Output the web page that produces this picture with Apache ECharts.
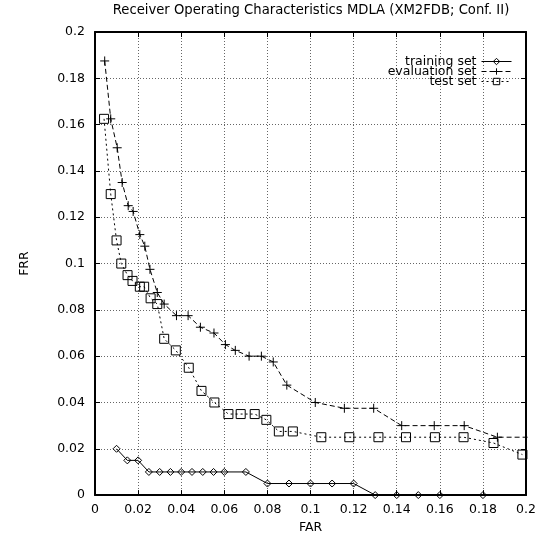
<!DOCTYPE html>
<html>
<head>
<meta charset="utf-8">
<script src="https://cdn.jsdelivr.net/npm/echarts@6/dist/echarts.min.js"></script>
<style>
  html, body { margin: 0; padding: 0; background: #fff; }
  #chart { width: 539px; height: 539px; }
</style>
</head>
<body>
<div id="chart"></div>
<script>
// values
const trainFAR = [0.01, 0.015, 0.02, 0.025, 0.03, 0.035, 0.04, 0.045, 0.05, 0.055, 0.06, 0.07, 0.08, 0.09, 0.1, 0.11, 0.12, 0.13, 0.14, 0.15, 0.16, 0.18];
const trainFRR = [0.02, 0.015, 0.015, 0.01, 0.01, 0.01, 0.01, 0.01, 0.01, 0.01, 0.01, 0.01, 0.005, 0.005, 0.005, 0.005, 0.005, 0, 0, 0, 0, 0];

const evalFAR = [0.0045, 0.0073, 0.0103, 0.0126, 0.0154, 0.0177, 0.0208, 0.0231, 0.0255, 0.0289, 0.0321, 0.0378, 0.0432, 0.0489, 0.0552, 0.0605, 0.0651, 0.0715, 0.0772, 0.0827, 0.089, 0.1022, 0.1157, 0.1293, 0.1423, 0.1574, 0.1713, 0.1867, 0.21];
const evalFRR = [0.1875, 0.1625, 0.15, 0.135, 0.125, 0.1225, 0.1125, 0.1075, 0.0975, 0.0875, 0.0825, 0.0775, 0.0775, 0.0725, 0.07, 0.065, 0.0625, 0.06, 0.06, 0.0575, 0.0475, 0.04, 0.0375, 0.0375, 0.03, 0.03, 0.03, 0.025, 0.025];

const testFAR = [0.0042, 0.0073, 0.01, 0.0122, 0.0151, 0.0174, 0.0208, 0.0228, 0.0258, 0.0289, 0.0321, 0.0375, 0.0435, 0.0494, 0.0554, 0.0619, 0.0676, 0.0741, 0.0795, 0.0853, 0.0918, 0.105, 0.118, 0.1315, 0.1443, 0.1577, 0.171, 0.1849, 0.1983];
const testFRR = [0.1625, 0.13, 0.11, 0.1, 0.095, 0.0925, 0.09, 0.09, 0.085, 0.0825, 0.0675, 0.0625, 0.055, 0.045, 0.04, 0.035, 0.035, 0.035, 0.0325, 0.0275, 0.0275, 0.025, 0.025, 0.025, 0.025, 0.025, 0.025, 0.0225, 0.0175];

const seriesNames = ["training set", "evaluation set", "test set"];

const FONT = "DejaVu Sans";
const FS = 12.5;

const pairs = (xs, ys) => xs.map((x, i) => [x, ys[i]]);
const fmt = (v) => String(+v.toFixed(2));

const chart = echarts.init(document.getElementById("chart"));

const frameAxis = (extra) => Object.assign({
  type: "value",
  min: 0,
  max: 0.2,
  interval: 0.02,
  axisLine: { show: true, onZero: false, lineStyle: { color: "#000", width: 2 } },
  axisTick: { show: true, inside: true, length: 5, lineStyle: { color: "#000", width: 1 } },
  splitLine: { show: false },
  axisLabel: { show: false },
}, extra);

// hollow marks drawn as paths so their stroke stays 1px
const markStyle = { color: "transparent", borderColor: "#000", borderWidth: 1 };

const option = {
  animation: false,
  backgroundColor: "#fff",
  textStyle: { fontFamily: FONT },
  title: {
    text: "Receiver Operating Characteristics MDLA (XM2FDB; Conf. II)",
    left: 311,
    textAlign: "center",
    top: 4,
    padding: 0,
    textStyle: { fontFamily: FONT, fontSize: 13.2, fontWeight: "normal", color: "#000" },
  },
  grid: { left: 95, right: 12, top: 32, bottom: 38 },
  legend: {
    orient: "vertical",
    right: 27,
    top: 55,
    align: "right",
    itemWidth: 30,
    itemHeight: 8,
    itemGap: -3,
    padding: 0,
    data: seriesNames,
    itemStyle: { borderWidth: 1 },
    lineStyle: { width: 1 },
    textStyle: { fontFamily: FONT, fontSize: FS, color: "#000" },
  },
  xAxis: [
    frameAxis({
      position: "bottom",
      name: "FAR",
      nameLocation: "middle",
      nameGap: 21,
      nameTextStyle: { fontFamily: FONT, fontSize: FS, color: "#000" },
      axisLabel: { show: true, margin: 8, color: "#000", fontFamily: FONT, fontSize: FS, formatter: fmt },
      splitLine: { show: true, lineStyle: { color: "#666", width: 1, type: [1, 2] } },
    }),
    frameAxis({ position: "top" }),
  ],
  yAxis: [
    frameAxis({
      position: "left",
      name: "FRR",
      nameLocation: "middle",
      nameRotate: 90,
      nameGap: 64,
      nameTextStyle: { fontFamily: FONT, fontSize: FS, color: "#000" },
      axisLabel: { show: true, margin: 10, color: "#000", fontFamily: FONT, fontSize: FS, formatter: fmt },
      splitLine: { show: true, lineStyle: { color: "#666", width: 1, type: [1, 2] } },
    }),
    frameAxis({ position: "right" }),
  ],
  series: [
    {
      name: seriesNames[0],
      type: "line",
      data: pairs(trainFAR, trainFRR),
      symbol: "path://M5,0L10,5L5,10L0,5Z",
      symbolSize: 7,
      showAllSymbol: true,
      lineStyle: { color: "#000", width: 1, type: "solid" },
      itemStyle: markStyle,
      z: 3,
    },
    {
      name: seriesNames[1],
      type: "line",
      data: pairs(evalFAR, evalFRR),
      symbol: "path://M0,5L10,5M5,0L5,10",
      symbolSize: 9,
      showAllSymbol: true,
      lineStyle: { color: "#000", width: 1, type: [5, 3] },
      itemStyle: { color: "#000", borderColor: "#000", borderWidth: 1 },
      z: 3,
    },
    {
      name: seriesNames[2],
      type: "line",
      data: pairs(testFAR, testFRR),
      symbol: "path://M0,0L10,0L10,10L0,10Z",
      symbolSize: 9,
      showAllSymbol: true,
      lineStyle: { color: "#000", width: 1, type: [2, 3] },
      itemStyle: markStyle,
      z: 3,
    },
  ],
};

chart.setOption(option);
</script>
</body>
</html>
